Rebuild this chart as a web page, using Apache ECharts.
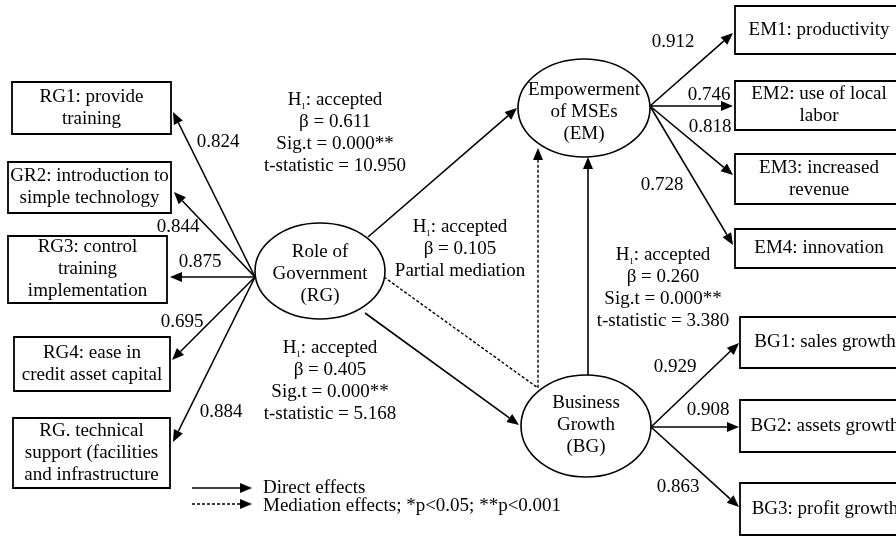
<!DOCTYPE html>
<html><head><meta charset="utf-8">
<script src="https://cdn.jsdelivr.net/npm/echarts@6/dist/echarts.min.js"></script>
<style>html,body{margin:0;padding:0;background:#fff}#c{width:896px;height:537px}</style>
</head><body><div id="c"></div>
<script>
// ---------- DATA ----------
const constructNames = ['Role of\nGovernment\n(RG)', 'Empowerment\nof MSEs\n(EM)', 'Business\nGrowth\n(BG)'];
const rgIndicators = ['RG1: provide\ntraining', 'GR2: introduction to\nsimple technology', 'RG3: control\ntraining\nimplementation', 'RG4: ease in\ncredit asset capital', 'RG. technical\nsupport (facilities\nand infrastructure'];
const rgLoadings = [0.824, 0.844, 0.875, 0.695, 0.884];
const emIndicators = ['EM1: productivity', 'EM2: use of local\nlabor', 'EM3: increased\nrevenue', 'EM4: innovation'];
const emLoadings = [0.912, 0.746, 0.818, 0.728];
const bgIndicators = ['BG1: sales growth', 'BG2: assets growth', 'BG3: profit growth'];
const bgLoadings = [0.929, 0.908, 0.863];
// paths: RG->EM, mediation, RG->BG, BG->EM
const pathStatus = ['accepted', 'accepted', 'accepted', 'accepted'];
const pathBeta = [0.611, 0.105, 0.405, 0.260];
const pathSig = ['0.000**', null, '0.000**', '0.000**'];
const pathT = [10.950, null, 5.168, 3.380];
const pathNote = [null, 'Partial mediation', null, null];
const legendLabels = ['Direct effects', 'Mediation effects; *p<0.05; **p<0.001'];

// ---------- LAYOUT ----------
const ellipseLayout = [[320, 271, 65, 48, 274], [584, 108, 66, 49, 112], [586, 426, 65, 51, 425]];
const rgBoxLayout = [[12, 82, 171, 134], [8, 162, 171, 213], [8, 236, 167, 303], [14, 337, 170, 391], [13, 418, 170, 488]];
const emBoxLayout = [[735, 6, 903, 54], [735, 81, 903, 130], [735, 154, 903, 204], [735, 229, 903, 268]];
const bgBoxLayout = [[740, 317, 910, 368], [740, 400, 910, 452], [740, 483, 910, 535]];
const rgOrigin = [255, 277], emOrigin = [650, 106], bgOrigin = [651, 427];
const rgTips = [[173, 112], [174, 192], [170, 277], [172, 360], [173, 442]];
const emTips = [[733, 33], [733, 106], [733, 175], [733, 245]];
const bgTips = [[739, 343], [739, 427], [739, 507]];
const rgLabelPos = [[218, 142], [178, 227], [200, 262], [182, 322], [221, 412]];
const emLabelPos = [[673, 42], [709, 95], [710, 127], [662, 185]];
const bgLabelPos = [[675, 367], [708, 410], [678, 487]];
const structArrows = [[[368, 237], [517, 108]], [[365, 313], [519, 425]], [[588, 375], [588, 157]]];
const medArrow = [[384, 277], [538, 388], [538, 148]];
const statsPos = [[335, 100], [460, 227], [330, 348], [663, 255]];
const legendPos = [[192, 252, 488, 263, 488], [192, 252, 504, 263, 506]];

const FONT = '"Liberation Serif", "Times New Roman", serif';
const FS = 19, LH = 22;

function arrowEls(api, pts, dashed) {
  const p = pts.map(q => api.coord(q));
  const n = p.length, T = p[n - 1], P = p[n - 2];
  const dx = T[0] - P[0], dy = T[1] - P[1], len = Math.hypot(dx, dy);
  const ux = dx / len, uy = dy / len, L = 12, W = 5;
  const base = [T[0] - ux * L, T[1] - uy * L];
  const linePts = p.slice(0, n - 1).concat([base]);
  return [
    {type: 'polyline', shape: {points: linePts}, style: {stroke: '#000', fill: null, lineWidth: dashed ? 1.4 : 1.6, lineDash: dashed ? [3, 2] : null}},
    {type: 'polygon', shape: {points: [T, [base[0] - uy * W, base[1] + ux * W], [base[0] + uy * W, base[1] - ux * W]]}, style: {fill: '#000'}}
  ];
}
function txt(api, pos, text, extra) {
  const c = api.coord(pos);
  return Object.assign({type: 'text', x: c[0], y: c[1], style: Object.assign({text: text, fill: '#000', fontSize: FS, fontFamily: FONT, lineHeight: LH, align: 'center', verticalAlign: 'middle'}, extra || {})});
}

const boxLayout = rgBoxLayout.concat(emBoxLayout, bgBoxLayout);
const boxText = rgIndicators.concat(emIndicators, bgIndicators);
const loadings = rgLoadings.concat(emLoadings, bgLoadings);
const origins = rgLoadings.map(() => rgOrigin).concat(emLoadings.map(() => emOrigin), bgLoadings.map(() => bgOrigin));
const tips = rgTips.concat(emTips, bgTips);
const labelPos = rgLabelPos.concat(emLabelPos, bgLabelPos);

const statsText = pathBeta.map((b, i) => {
  const lines = ['{h|H}{s|1}{h|: ' + pathStatus[i] + '}', 'β = ' + b.toFixed(3)];
  if (pathSig[i]) lines.push('Sig.t = ' + pathSig[i]);
  if (pathT[i] != null) lines.push('t-statistic = ' + pathT[i].toFixed(3));
  if (pathNote[i]) lines.push(pathNote[i]);
  return lines.join('\n');
});

const chart = echarts.init(document.getElementById('c'), null, {renderer: 'canvas'});
chart.setOption({
  animation: false,
  backgroundColor: '#fff',
  grid: {left: 0, right: 0, top: 0, bottom: 0},
  xAxis: {type: 'value', min: 0, max: 896, show: false},
  yAxis: {type: 'value', min: 0, max: 537, inverse: true, show: false},
  series: [
    { // loading arrows and labels
      type: 'custom', coordinateSystem: 'cartesian2d',
      data: loadings.map((v, i) => [i, v]),
      renderItem: (params, api) => {
        const i = params.dataIndex;
        return {type: 'group', children: arrowEls(api, [origins[i], tips[i]], false).concat([txt(api, labelPos[i], loadings[i].toFixed(3))])};
      }
    },
    { // structural arrows
      type: 'custom', coordinateSystem: 'cartesian2d',
      data: structArrows.map((a, i) => [i]),
      renderItem: (params, api) => ({type: 'group', children: arrowEls(api, structArrows[params.dataIndex], false)})
    },
    { // mediation arrow
      type: 'custom', coordinateSystem: 'cartesian2d',
      data: [[0]],
      renderItem: (params, api) => ({type: 'group', children: arrowEls(api, medArrow, true)})
    },
    { // indicator boxes
      type: 'custom', coordinateSystem: 'cartesian2d',
      data: boxText.map((t, i) => [i]),
      renderItem: (params, api) => {
        const b = boxLayout[params.dataIndex];
        const a = api.coord([b[0], b[1]]), c = api.coord([b[2], b[3]]);
        return {type: 'group', children: [
          {type: 'rect', shape: {x: a[0], y: a[1], width: c[0] - a[0], height: c[1] - a[1]}, style: {fill: '#fff', stroke: '#000', lineWidth: 1.8}},
          txt(api, [(b[0] + b[2]) / 2, (b[1] + b[3]) / 2], boxText[params.dataIndex])
        ]};
      }
    },
    { // constructs
      type: 'custom', coordinateSystem: 'cartesian2d',
      data: constructNames.map((t, i) => [i]),
      renderItem: (params, api) => {
        const e = ellipseLayout[params.dataIndex];
        const c = api.coord([e[0], e[1]]);
        return {type: 'group', children: [
          {type: 'ellipse', shape: {cx: c[0], cy: c[1], rx: e[2], ry: e[3]}, style: {fill: '#fff', stroke: '#000', lineWidth: 1.6}},
          txt(api, [e[0], e[4]], constructNames[params.dataIndex])
        ]};
      }
    },
    { // path statistics
      type: 'custom', coordinateSystem: 'cartesian2d',
      data: pathBeta.map((b, i) => [i, b]),
      renderItem: (params, api) => {
        const p = statsPos[params.dataIndex];
        return txt(api, [p[0], p[1] - LH / 2], statsText[params.dataIndex], {
          verticalAlign: 'top',
          rich: {
            h: {fontSize: FS, fontFamily: FONT, lineHeight: LH, fill: '#000'},
            s: {fontSize: 9, fontFamily: FONT, lineHeight: 12, verticalAlign: 'bottom', fill: '#000'}
          }
        });
      }
    },
    { // legend
      type: 'custom', coordinateSystem: 'cartesian2d',
      data: legendLabels.map((t, i) => [i]),
      renderItem: (params, api) => {
        const l = legendPos[params.dataIndex];
        return {type: 'group', children: arrowEls(api, [[l[0], l[2]], [l[1], l[2]]], params.dataIndex === 1).concat([
          txt(api, [l[3], l[4]], legendLabels[params.dataIndex], {align: 'left'})
        ])};
      }
    }
  ]
});
</script>
</body></html>
